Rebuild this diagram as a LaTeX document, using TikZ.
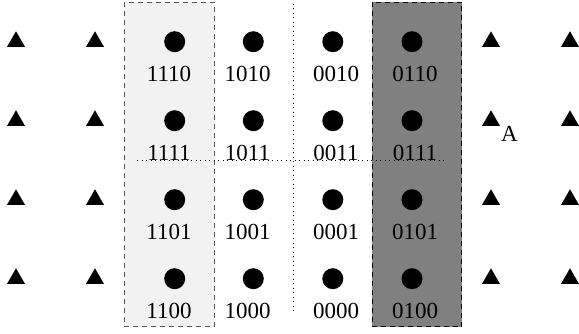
\documentclass[tikz,border=0pt]{standalone}
\usepackage{fontspec}
\setmainfont{Liberation Serif}
\usetikzlibrary{shapes.geometric}
\definecolor{lightfill}{HTML}{F2F2F2}
\definecolor{darkfill}{HTML}{808080}
\definecolor{lightedge}{HTML}{555555}
\begin{document}
\begin{tikzpicture}[x=1pt,y=-1pt,
  pt/.style={circle,fill=black,inner sep=0pt,minimum size=21pt},
  tri/.style={regular polygon,regular polygon sides=3,fill=black,inner sep=0pt,minimum size=20.8pt},
  lbl/.style={anchor=base,inner sep=0pt,font=\fontsize{23}{27}\selectfont},
  dashbox/.style={dash pattern=on 5pt off 4pt,line width=1pt},
  dotline/.style={dash pattern=on 1pt off 3.5pt,line width=1pt}]
\useasboundingbox (0,0) rectangle (579,334);
\fill[white] (0,0) rectangle (579,334);
% boxes
\draw[dashbox,fill=lightfill,draw=lightedge] (124.3,2.3) rectangle (214.3,326.7);
\draw[dashbox,fill=darkfill,draw=black] (372.3,2.3) rectangle (461.7,326.7);
% dotted lines
\coordinate (vt) at (293.3,4);
\coordinate (vb) at (293.3,314);
\coordinate (hl) at (137,161);
\coordinate (hr) at (447,161);
\draw[dotline] (vt) -- (vb);
\draw[dotline] (hl) -- (hr);
% triangles
\foreach \r [count=\i] in {41.7,120.7,199.7,278.7}{
  \node[tri] (tl1\i) at (16,\r) {};
  \node[tri] (tl2\i) at (95,\r) {};
  \node[tri] (tr1\i) at (491,\r) {};
  \node[tri] (tr2\i) at (570,\r) {};
}
% dots and labels
\foreach \r/\a/\b/\c/\d [count=\i] in {41.7/1110/1010/0010/0110,120.7/1111/1011/0011/0111,199.7/1101/1001/0001/0101,278.7/1100/1000/0000/0100}{
  \node[pt] (p1\i) at (174.7,\r) {};
  \node[pt] (p2\i) at (253.3,\r) {};
  \node[pt] (p3\i) at (332.8,\r) {};
  \node[pt] (p4\i) at (412,\r) {};
  \node[lbl] (l1\i) at (169,\r+40) {\a};
  \node[lbl] (l2\i) at (247.5,\r+40) {\b};
  \node[lbl] (l3\i) at (336,\r+40) {\c};
  \node[lbl] (l4\i) at (415,\r+40) {\d};
}
\node[lbl] (A) at (509.5,141.7) {A};
\end{tikzpicture}
\end{document}
